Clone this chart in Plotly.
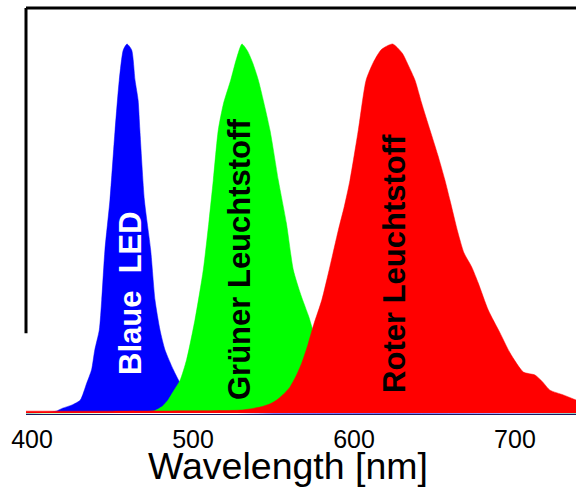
import plotly.graph_objects as go

# Wavelength grid (nm) and normalized intensities
blue_wl = [396, 410, 415, 419, 425, 430, 434, 437, 439, 441.8, 443.3, 445.3, 448.4, 451.6, 454.2,
           456.7, 459, 461.9, 464, 465.9, 467, 469.8, 473.7, 476.4, 479.5, 482.6, 487.8, 492, 497,
           503, 510, 520, 540, 738]
blue_val = [0, 0.002, 0.005, 0.013, 0.022, 0.035, 0.081, 0.117, 0.171, 0.225, 0.306, 0.442, 0.577,
            0.767, 0.902, 0.984, 1.0, 0.984, 0.902, 0.848, 0.767, 0.577, 0.442, 0.306, 0.225, 0.171,
            0.117, 0.081, 0.05, 0.025, 0.01, 0.003, 0, 0]

green_wl = [396, 465, 472, 476, 478, 481, 484.5, 488, 492, 496, 501.2, 506.4, 510, 512.6, 515.7,
            519, 523.4, 527, 530.4, 534, 537, 540.6, 547.8, 553, 558, 562.3, 567, 572, 576, 580,
            585, 590, 600, 620, 650, 738]
green_val = [0, 0.002, 0.004, 0.006, 0.01, 0.018, 0.035, 0.06, 0.089, 0.144, 0.252, 0.388, 0.523,
             0.631, 0.767, 0.84, 0.902, 0.96, 1.0, 0.98, 0.95, 0.902, 0.767, 0.631, 0.515, 0.388,
             0.32, 0.26, 0.2, 0.15, 0.1, 0.07, 0.04, 0.015, 0.005, 0]

red_wl = [396, 450, 500, 530, 541.6, 548, 552, 556, 560.2, 564, 567.5, 571, 575, 580, 585, 590.3,
          594, 597.5, 602.7, 607.5, 612, 617, 624, 630, 634, 637.9, 642, 647.2, 652, 656.5, 659.6,
          664.5, 668.3, 673.1, 677.2, 683.4, 690.7, 696.9, 705.2, 712.4, 717, 721.7, 730, 738]
red_val = [0.005, 0.005, 0.006, 0.008, 0.016, 0.025, 0.035, 0.05, 0.07, 0.1, 0.135, 0.18, 0.24,
           0.306, 0.396, 0.496, 0.56, 0.631, 0.767, 0.902, 0.95, 0.985, 1.0, 0.975, 0.94, 0.902,
           0.84, 0.767, 0.7, 0.631, 0.577, 0.49, 0.434, 0.396, 0.352, 0.279, 0.217, 0.163, 0.111,
           0.103, 0.085, 0.062, 0.049, 0.035]

tick_vals = [400, 500, 600, 700]
tick_text = ["400", "500", "600", "700"]

x_title = "Wavelength [nm]"

labels = ["Blaue\u00a0\u00a0LED", "Grüner Leuchtstoff", "Roter Leuchtstoff"]
label_x = [461.2, 528.9, 624.8]
label_y = [0.324, 0.416, 0.4065]
label_colors = ["white", "black", "black"]

FONT = "Liberation Sans, Arial, sans-serif"

fig = go.Figure()
for wl, val, col in [(blue_wl, blue_val, "#0000FF"),
                     (green_wl, green_val, "#00FF00"),
                     (red_wl, red_val, "#FF0000")]:
    fig.add_trace(go.Scatter(x=wl, y=val, mode="lines", fill="tozeroy",
                             line=dict(color=col, width=0.5, shape="spline", smoothing=0.6),
                             fillcolor=col, hoverinfo="skip", showlegend=False))

for t, x, y, c in zip(labels, label_x, label_y, label_colors):
    fig.add_annotation(x=x, y=y, xref="x", yref="y", text="<b>%s</b>" % t, textangle=-90,
                       showarrow=False, font=dict(family=FONT, size=31, color=c))

# axis title as annotation (centred slightly left of plot centre, as in the reference)
fig.add_annotation(x=0.477, y=-0.128, xref="paper", yref="paper", text=x_title,
                   showarrow=False, xanchor="center", yanchor="middle",
                   font=dict(family=FONT, size=37.5, color="black"))

# frame: top line and partial left line
fig.add_shape(type="line", xref="paper", yref="paper", x0=0, x1=1, y0=1, y1=1,
              line=dict(color="black", width=3))
fig.add_shape(type="line", xref="paper", yref="paper", x0=0, x1=0, y0=0.199, y1=1,
              line=dict(color="black", width=3))

fig.update_layout(
    width=576, height=488,
    margin=dict(l=26, r=0, t=8, b=74),
    paper_bgcolor="white", plot_bgcolor="white",
    font=dict(family=FONT, color="black"),
    xaxis=dict(range=[396.27, 737.9], tickvals=tick_vals, ticktext=tick_text,
               showgrid=False, zeroline=False, showline=True, linecolor="#1a1a60", linewidth=1,
               ticks="outside", ticklen=3, tickcolor="rgba(0,0,0,0)",
               tickfont=dict(size=25, family=FONT)),
    yaxis=dict(range=[-0.0027, 1.0976], showgrid=False, zeroline=False, showticklabels=False,
               showline=False, ticks=""),
)

fig.write_html("out.html", config={"displayModeBar": False},
               post_script="document.body.style.margin='0';document.body.style.overflow='hidden';")
